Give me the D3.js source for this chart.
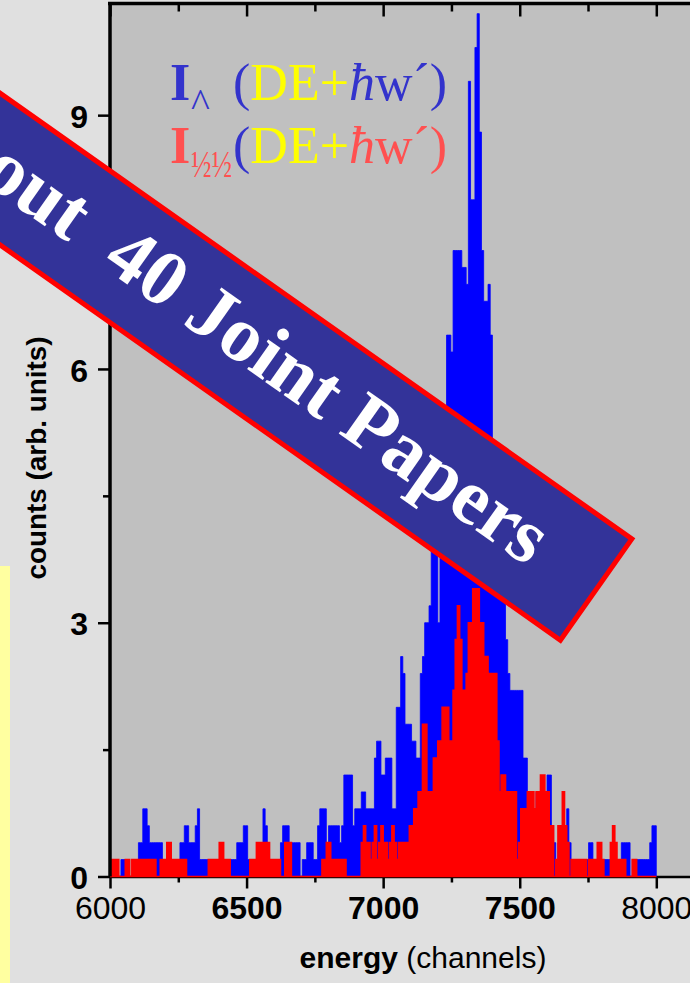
<!DOCTYPE html>
<html>
<head>
<meta charset="utf-8">
<script src="https://cdn.jsdelivr.net/npm/d3@7"></script>
<style>
    body { margin: 0; background: #e0e0e0; }
</style>
</head>
<body>
<svg id="chartsvg" width="690" height="983"></svg>
<script>
// histogram bins start at 6000 channels, 8 channels wide (250 bins)
var binStart = 6000
var binWidth = 8
var countUnit = 0.2   // arb. units for one count

// I perp (blue), counts per bin
var perpCounts = [
    0,0,0,0,0,1,1,0,0,0,0,0,0,2,2,4,4,3,2,2,2,2,2,2,1,
    1,1,1,1,1,1,1,2,2,3,3,2,2,2,3,4,1,1,1,1,1,1,1,1,1,
    1,1,1,1,1,1,1,1,2,2,2,3,3,1,0,0,0,1,1,2,4,3,2,1,1,
    1,1,1,2,3,3,3,2,2,2,2,2,0,1,1,2,2,2,1,1,3,4,4,4,2,
    3,3,3,3,3,2,3,6,6,6,6,3,4,4,4,5,5,4,4,4,4,7,8,8,6,
    6,7,7,7,4,4,10,10,13,12,9,9,9,8,8,7,7,12,13,15,15,16,20,22,21,
    15,25,27,27,32,32,31,37,37,37,37,36,36,35,47,40,40,49,51,44,37,34,34,35,32,
    24,22,21,19,18,17,14,12,11,11,11,11,11,11,7,7,5,5,4,4,5,4,5,5,4,
    6,6,3,2,1,2,3,3,3,4,2,1,1,1,1,1,1,1,1,2,2,1,1,1,1,
    1,1,1,1,1,1,1,1,1,2,2,2,2,0,1,1,1,1,1,1,1,1,2,3,3
]

// I para (red), counts per bin
var paraCounts = [
    1,1,1,1,0,0,0,1,1,0,1,1,1,1,1,1,1,1,1,1,1,0,0,1,1,
    1,2,2,1,1,1,1,1,1,1,0,0,0,0,0,0,0,0,0,0,1,1,1,1,1,
    2,2,1,1,1,0,0,0,0,0,0,0,0,0,1,1,1,2,2,2,2,2,2,1,1,
    1,1,1,0,0,2,2,2,0,0,0,0,0,0,0,0,0,0,0,0,0,0,1,1,2,
    2,1,1,1,1,1,1,1,0,0,0,0,0,0,0,2,3,2,2,1,2,3,1,2,3,
    2,2,1,2,3,2,1,2,2,2,2,2,3,3,4,4,5,5,9,9,5,5,5,7,7,
    8,8,10,10,10,8,8,11,14,16,14,11,11,12,15,15,17,17,17,15,15,13,13,12,12,
    12,12,8,5,6,6,5,5,5,5,5,1,2,4,4,4,5,5,5,4,5,5,6,6,5,
    5,3,3,0,1,3,3,5,3,2,0,1,1,1,1,1,1,1,0,1,1,1,1,2,2,
    1,0,0,0,2,3,2,1,1,1,1,0,0,0,1,1,0,0,0,0,0,0,0,0,0
]

var xMajor = [6000, 6500, 7000, 7500, 8000]
var xMinor = [6250, 6750, 7250, 7750]
var yMajor = [0, 3, 6, 9]
var yMinor = [1.5, 4.5, 7.5]

var svg = d3.select("#chartsvg")
var sans = '"Liberation Sans", Arial, sans-serif'
var serif = '"Liberation Serif", "Times New Roman", serif'

// plot box (right edge runs past the window)
var pLeft = 110, pRight = 700, pTop = 3.5, pBottom = 876.5

var x = d3.scaleLinear().domain([6000, 8160]).range([pLeft, pRight])
var y = d3.scaleLinear().domain([0, 10.32]).range([pBottom, pTop])

// backgrounds
svg.append('rect').attr('width', 690).attr('height', 983).attr('fill', '#e0e0e0')
svg.append('rect').attr('x', 0).attr('y', 566).attr('width', 10).attr('height', 420).attr('fill', '#ffffa0')
svg.append('rect')
    .attr('x', pLeft).attr('y', pTop)
    .attr('width', pRight - pLeft).attr('height', pBottom - pTop)
    .attr('fill', '#c0c0c0')

function styleAxis(g, width)
{
    g.select('.domain').attr('stroke', '#000').attr('stroke-width', width)
    g.selectAll('.tick line').attr('stroke', '#000').attr('stroke-width', 2.5)
}

// bottom axis (under the data, the red baseline sits on it)
var xAxisG = svg.append('g')
    .attr('transform', 'translate(0,' + pBottom + ')')
    .call(d3.axisBottom(x).tickValues(xMajor).tickSize(12).tickSizeOuter(0).tickPadding(8).tickFormat(d3.format('d')))
styleAxis(xAxisG, 2.5)
xAxisG.selectAll('text')
    .attr('fill', '#000')
    .style('font-family', sans)
    .style('font-size', '32px')
    .style('font-weight', function(d) { return (d == 6000 || d == 8000) ? 'normal' : 'bold' })
svg.append('g')
    .attr('transform', 'translate(0,' + pBottom + ')')
    .call(d3.axisBottom(x).tickValues(xMinor).tickSize(6).tickFormat(''))
    .call(function(g) { g.select('.domain').remove(); styleAxis(g, 0) })

// data
function binPoints(counts)
{
    var pts = counts.map(function(c, i) {
        return { ch: binStart + i * binWidth, v: c * countUnit }
    })
    pts.push({ ch: binStart + counts.length * binWidth, v: counts[counts.length - 1] * countUnit })
    return pts
}

var area = d3.area()
    .curve(d3.curveStepAfter)
    .x(function(d) { return x(d.ch) })
    .y0(y(0))
    .y1(function(d) { return y(d.v) })

svg.append('path')
    .datum(binPoints(perpCounts))
    .attr('d', area)
    .attr('fill', '#0000ff')
    .attr('stroke', '#0000ff')
    .attr('stroke-width', 0.8)

svg.append('path')
    .datum(binPoints(paraCounts))
    .attr('d', area)
    .attr('fill', '#ff0000')
    .attr('stroke', '#ff0000')
    .attr('stroke-width', 1.6)

// left axis
var yAxisG = svg.append('g')
    .attr('transform', 'translate(' + pLeft + ',0)')
    .call(d3.axisLeft(y).tickValues(yMajor).tickSize(12).tickSizeOuter(0).tickPadding(10))
styleAxis(yAxisG, 3.5)
yAxisG.select('.domain').attr('d', 'M0,' + pTop + 'V' + pBottom)
yAxisG.selectAll('text')
    .attr('fill', '#000')
    .attr('dy', '0.38em')
    .style('font-family', sans)
    .style('font-size', '32px')
    .style('font-weight', 'bold')
svg.append('g')
    .attr('transform', 'translate(' + pLeft + ',0)')
    .call(d3.axisLeft(y).tickValues(yMinor).tickSize(7).tickFormat(''))
    .call(function(g) { g.select('.domain').remove(); styleAxis(g, 0) })

// top axis, ticks pointing in
var topG = svg.append('g')
    .attr('transform', 'translate(0,' + pTop + ')')
    .call(d3.axisTop(x).tickValues(xMajor).tickSize(-13).tickSizeOuter(0).tickFormat(''))
styleAxis(topG, 3.5)
topG.select('.domain').attr('d', 'M' + (pLeft - 2) + ',0H' + pRight)
svg.append('g')
    .attr('transform', 'translate(0,' + pTop + ')')
    .call(d3.axisTop(x).tickValues(xMinor).tickSize(-8).tickFormat(''))
    .call(function(g) { g.select('.domain').remove(); styleAxis(g, 0) })

// axis titles
var xTitle = svg.append('text')
    .attr('x', 423).attr('y', 968)
    .attr('text-anchor', 'middle')
    .style('font-family', sans)
    .style('font-size', '30px')
xTitle.append('tspan').style('font-weight', 'bold').text('energy ')
xTitle.append('tspan').text('(channels)')

svg.append('text')
    .attr('transform', 'translate(46,458) rotate(-90)')
    .attr('text-anchor', 'middle')
    .attr('textLength', 243)
    .attr('lengthAdjust', 'spacingAndGlyphs')
    .style('font-family', sans)
    .style('font-size', '27px')
    .style('font-weight', 'bold')
    .text('counts (arb. units)')

// legend
var blueTxt = '#3333cc', redTxt = '#ff5050', yellowTxt = '#ffff00'

function legendLine(yBase, mainColor, subText, subY, subSize, subWidth, hbarColor, tailColor)
{
    svg.append('text')
        .attr('x', 170).attr('y', yBase)
        .style('font-family', serif).style('font-size', '52px').style('font-weight', 'bold')
        .attr('fill', mainColor)
        .text('I')
    var sub = svg.append('text')
        .attr('x', 191).attr('y', subY)
        .style('font-family', serif).style('font-size', subSize + 'px')
        .attr('fill', mainColor)
        .text(subText)
    if (subWidth) sub.attr('textLength', subWidth).attr('lengthAdjust', 'spacingAndGlyphs')

    var t = svg.append('text')
        .attr('x', 233).attr('y', yBase)
        .style('font-family', serif).style('font-size', '52px')
    t.append('tspan').attr('fill', blueTxt).text('(')
    t.append('tspan').attr('fill', yellowTxt).text('DE+')
    t.append('tspan').attr('fill', hbarColor).style('font-style', 'italic').text('\u0127')
    t.append('tspan').attr('fill', tailColor).text('w\u00b4)')
}

legendLine(100, blueTxt, '^', 117, 40, 0, blueTxt, blueTxt)
legendLine(163, redTxt, '\u00bd\u00bd', 177, 38, 41, redTxt, redTxt)

// banner across the plot
var banner = svg.append('g').attr('transform', 'translate(0,169) rotate(35.2)')
banner.append('rect')
    .attr('x', -300).attr('y', -62)
    .attr('width', 1029.5).attr('height', 124)
    .attr('fill', '#333399')
    .attr('stroke', '#ff0000')
    .attr('stroke-width', 5)
banner.append('text')
    .attr('x', 660).attr('y', 21)
    .attr('text-anchor', 'end')
    .style('white-space', 'pre')
    .style('font-family', serif)
    .style('font-size', '79px')
    .style('font-weight', 'bold')
    .attr('fill', '#ffffff')
    .text('About  40 Joint Papers')
</script>
</body>
</html>
